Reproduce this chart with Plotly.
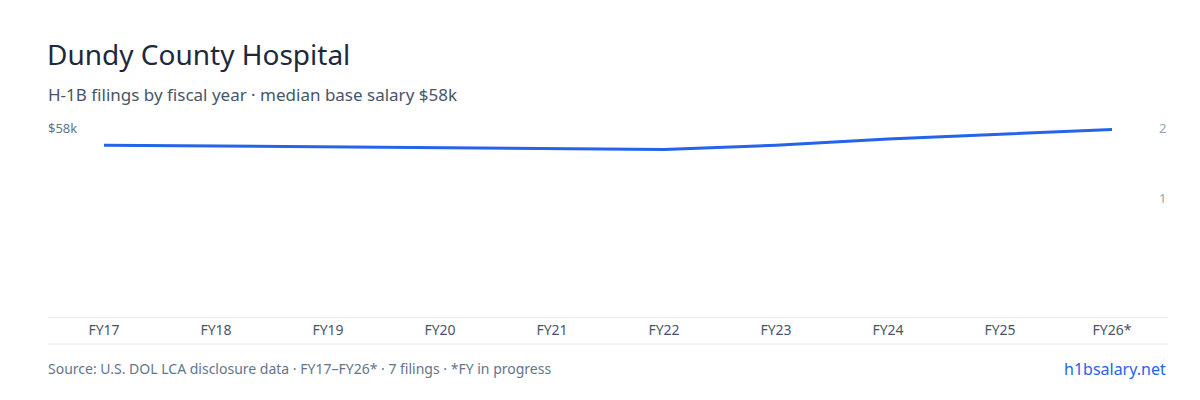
import plotly.graph_objects as go

years = ["FY17","FY18","FY19","FY20","FY21","FY22","FY23","FY24","FY25","FY26*"]
filings = [2,0,0,0,0,1,1,2,0,1]
salary_k = [56.4,None,None,None,None,56.0,56.4,57.0,None,57.9]
left_label = "$58k"
right_labels = ["2", "1"]

stub = [v if v > 0 else 0.05 for v in filings]

fig = go.Figure()
fig.add_bar(x=years, y=stub, marker_color="#93c5fd", width=0.9, yaxis="y2",
            hovertext=[str(v) for v in filings])
fig.add_scatter(x=years, y=salary_k, mode="lines", connectgaps=True,
                line=dict(color="#2563eb", width=3), yaxis="y3")

fig.update_layout(
    width=1200, height=400, showlegend=False,
    plot_bgcolor="white", paper_bgcolor="white",
    margin=dict(l=40, r=40, t=110, b=91, autoexpand=False),
    font=dict(family="Noto Sans", color="#64748b", size=13),
    xaxis=dict(showgrid=False, showline=True, linecolor="#e2e8f0", automargin=False,
               tickfont=dict(size=14, color="#475569"), ticks=""),
    yaxis=dict(visible=False),
    yaxis2=dict(range=[0, 2.55], overlaying="y", visible=False),
    yaxis3=dict(range=[40, 59], overlaying="y", visible=False),
)

def ann(text, x, y, xa, ya, size, color):
    fig.add_annotation(text=text, x=x, y=y, xref="paper", yref="paper",
                       xanchor=xa, yanchor=ya, showarrow=False,
                       font=dict(size=size, color=color), xshift=0)

ann("Dundy County Hospital", -0.003, 1.32, "left", "middle", 28, "#1e293b")
ann("H-1B filings by fiscal year · median base salary $58k", -0.002, 1.116, "left", "middle", 17, "#475569")
ann(left_label, -0.002, 0.95, "left", "middle", 13, "#64748b")
ann(right_labels[0], 1, 0.95, "right", "middle", 13, "#94a3b8")
ann(right_labels[1], 1, 0.60, "right", "middle", 13, "#94a3b8")
fig.add_shape(type="line", xref="paper", yref="paper", x0=0, x1=1, y0=-0.136, y1=-0.136,
              line=dict(color="#e2e8f0", width=1))
ann("Source: U.S. DOL LCA disclosure data · FY17–FY26* · 7 filings · *FY in progress",
    -0.002, -0.261, "left", "middle", 14, "#64748b")
ann("h1bsalary.net", 1, -0.261, "right", "middle", 16, "#2563eb")

fig.write_html("out.html")
